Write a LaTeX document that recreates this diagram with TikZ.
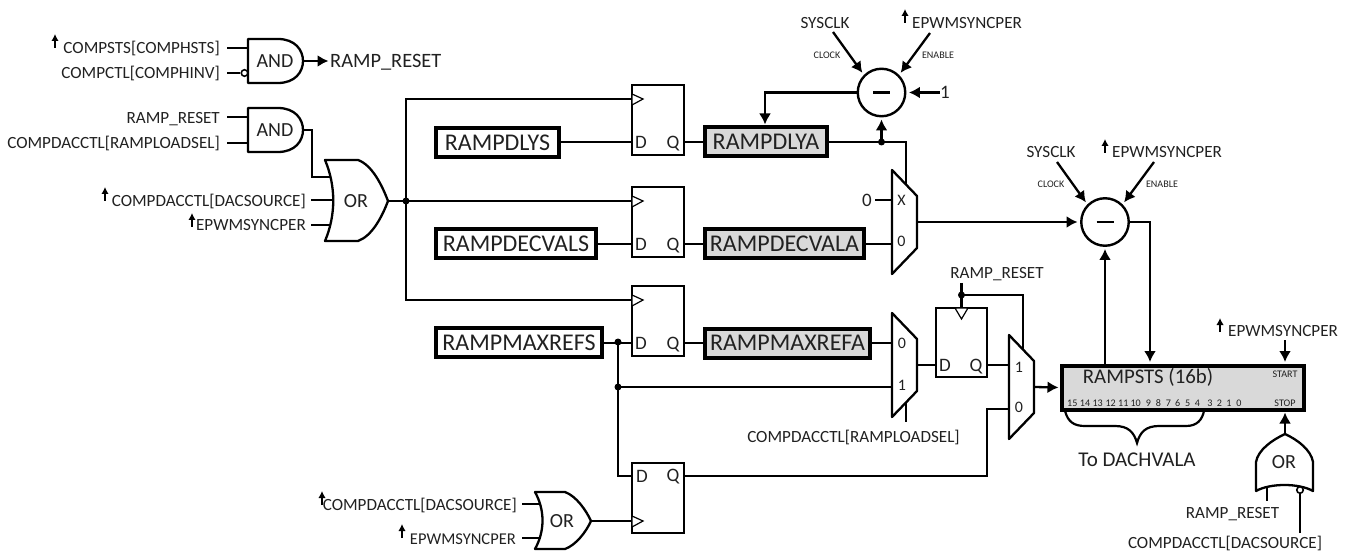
\documentclass[tikz,border=0pt]{standalone}
\usepackage{fontspec}
\setmainfont{Carlito}
\usetikzlibrary{arrows.meta,calc}
\definecolor{ink}{gray}{0.13}
\definecolor{regfill}{gray}{0.85}
\tikzset{
  x=1pt,y=-1pt,
  wire/.style={line width=2.3pt,line cap=butt,line join=miter},
  arr/.style={-{Latex[length=11pt,width=12pt]},shorten >=1.5pt},
  gate/.style={line width=2.3pt,line join=round,fill=white},
  lab/.style={font=\fontsize{17.1}{18}\selectfont,text=ink,inner sep=0pt,text height=11pt,text depth=0pt},
  labr/.style={lab,anchor=east},
  labl/.style={lab,anchor=west},
  bigl/.style={font=\fontsize{20.4}{22}\selectfont,text=ink,inner sep=0pt,text height=13pt,text depth=0pt},
  gtext/.style={font=\fontsize{20}{22}\selectfont,text=ink,inner sep=0pt,text height=12.8pt,text depth=0pt},
  ffl/.style={font=\fontsize{19}{21}\selectfont,text=ink,inner sep=0pt,text height=12.2pt,text depth=0pt},
  muxl/.style={font=\fontsize{16}{17}\selectfont,text=ink,inner sep=0pt,text height=10.3pt,text depth=0pt},
  tiny/.style={font=\fontsize{10.1}{11}\selectfont,text=ink,inner sep=0pt,text height=6.5pt,text depth=0pt},
  regbox/.style={draw,line width=4pt,inner sep=0pt,minimum height=29pt,font=\fontsize{24}{26}\selectfont,text=ink,text height=15.4pt,text depth=0pt},
  regs/.style={regbox},
  rega/.style={regbox,fill=regfill},
  dotn/.style={circle,fill=black,inner sep=0pt,minimum size=7pt},
  bub/.style={circle,draw,fill=white,line width=1.6pt,inner sep=0pt,minimum size=6.5pt},
  sub/.style={circle,draw,line width=2.4pt,fill=white,inner sep=0pt,minimum size=47.5pt},
  uparr/.pic={\draw[line width=1.9pt,-{Latex[length=7pt,width=7.5pt]}] (0,0) -- (0,-14);},
  minus/.pic={\draw[line width=2.4pt] (-8.5,0) -- (8.5,0);},
  andg/.pic={
    \draw[gate] (0,0) -- (30,0) .. controls (47,0) and (55,11) .. (55,22) .. controls (55,33) and (47,44) .. (30,44) -- (0,44) -- cycle;
    \node[gtext] (-t) at (27,22) {AND};
    \coordinate (-a) at (0,9);
    \coordinate (-b) at (0,34);
    \coordinate (-o) at (55,22);
  },
  ffa/.pic={
    \draw[line width=2.2pt] (0,0) rectangle (52,70);
    \draw[line width=1.2pt,fill=white] (0,9) -- (11,14) -- (0,20) -- cycle;
    \node[ffl] (-dl) at (9,57) {D};
    \node[ffl] (-ql) at (41,57) {Q};
    \coordinate (-c) at (0,14);
    \coordinate (-d) at (0,57);
    \coordinate (-q) at (52,57);
  },
  ffb/.pic={
    \draw[line width=2.2pt] (0,0) rectangle (52,70);
    \draw[line width=1.2pt,fill=white] (0,53) -- (11,58) -- (0,64) -- cycle;
    \node[ffl] (-dl) at (10,13) {D};
    \node[ffl] (-ql) at (41,12) {Q};
    \coordinate (-c) at (0,58);
    \coordinate (-d) at (0,13);
    \coordinate (-q) at (52,13);
  },
  ffc/.pic={
    \draw[line width=2.2pt] (0,0) rectangle (51,69);
    \draw[line width=1.2pt,fill=white] (19,0) -- (25.5,11) -- (32,0) -- cycle;
    \node[ffl] (-dl) at (9,57) {D};
    \node[ffl] (-ql) at (40,57) {Q};
    \coordinate (-c) at (25.5,0);
    \coordinate (-d) at (0,57);
    \coordinate (-q) at (51,57);
  },
  muxg/.pic={
    \draw[gate,fill=none] (0,0) -- (25,26) -- (25,78) -- (0,104) -- cycle;
    \coordinate (-a) at (0,30);
    \coordinate (-b) at (0,74);
    \coordinate (-o) at (25,52);
    \coordinate (-st) at (14,14.6);
    \coordinate (-sb) at (14,89.4);
  },
}
\begin{document}
\begin{tikzpicture}
\useasboundingbox (0,0) rectangle (1346,553);

% ---- top-left gates
\pic (and1) at (248,39) {andg};
\pic (and2) at (248,108) {andg};
\node[bub] (b1) at (244.5,73) {};
\coordinate (l1a) at (227,48);
\coordinate (l1b) at (227,73);
\coordinate (l2a) at (227,117);
\coordinate (l2b) at (227,143);
\node[labr] (tl1) at (220,48) {COMPSTS[COMPHSTS]};
\node[labr] (tl2) at (220,73) {COMPCTL[COMPHINV]};
\node[labr] (tl3) at (220,118) {RAMP\_RESET};
\node[labr] (tl4) at (220,143) {COMPDACCTL[RAMPLOADSEL]};
\pic at (55,48) {uparr};
\node[bigl,anchor=west] (rr) at (330,61) {RAMP\_RESET};
\draw[wire] (l1a) -- (and1-a);
\draw[wire] (l1b) -- (b1);
\draw[wire] (l2a) -- (l2a -| and2-a);
\draw[wire] (l2b) -- (l2b -| and2-b);
\draw[wire,arr] (and1-o) -- (rr.west);

% ---- OR 1
\draw[gate] (325,160) -- (358,160) .. controls (372,165) and (382,185) .. (388,201) .. controls (382,217) and (372,236) .. (358,241) -- (325,241) .. controls (336,215) and (336,186) .. (325,160) -- cycle;
\node[gtext] (ort1) at (356,201) {OR};
\coordinate (or1a) at (331,177);
\coordinate (or1b) at (333,200);
\coordinate (or1c) at (331,225);
\coordinate (or1o) at (388,201);
\coordinate (l3a) at (311,200);
\coordinate (l3b) at (311,225);
\node[labr] (tl5) at (306,201) {COMPDACCTL[DACSOURCE]};
\node[labr] (tl6) at (306,225) {EPWMSYNCPER};
\pic at (105,201) {uparr};
\pic at (192,227) {uparr};
\draw[wire] (and2-o) -- ++(9,0) |- (or1a);
\draw[wire] (l3a) -- (or1b);
\draw[wire] (l3b) -- (or1c);

% ---- flip-flops
\pic (ff1) at (632,85) {ffa};
\pic (ff2) at (632,187) {ffa};
\pic (ff3) at (632,286) {ffa};
\pic (ff4) at (632,463) {ffb};
\pic (ff5) at (936,308) {ffc};

% ---- registers
\node[regs,minimum width=123pt] (dlys) at (497.5,142.5) {RAMPDLYS};
\node[regs,minimum width=160pt] (decs) at (516,244) {RAMPDECVALS};
\node[regs,minimum width=166pt] (maxs) at (519,342.5) {RAMPMAXREFS};
\node[rega,minimum width=122pt] (dlya) at (766,142) {RAMPDLYA};
\node[rega,minimum width=159pt] (deca) at (784.5,244) {RAMPDECVALA};
\node[rega,minimum width=165pt] (maxa) at (787.5,343) {RAMPMAXREFA};

% ---- clock bus
\node[dotn] (j1) at (406,201) {};
\draw[wire] (or1o) -- (ff2-c);
\draw[wire] (ff1-c) -| (j1.center);
\draw[wire] (ff3-c) -| (j1.center);

% ---- register wires
\draw[wire] (dlys.east |- ff1-d) -- (ff1-d);
\draw[wire] (decs.east) -- (ff2-d);
\draw[wire] (ff1-q) -- (dlya.west);
\draw[wire] (ff2-q) -- (deca.west);
\draw[wire] (ff3-q) -- (maxa.west);
\node[dotn] (j3) at (618,342) {};
\node[dotn] (j4) at (618,387) {};
\draw[wire] (maxs.east |- ff3-d) -- (ff3-d);
\draw[wire] (j3.center) -- (j4.center);
\draw[wire] (j4.center) |- (ff4-d);

% ---- mux 1 and subtractor 1
\pic (m1) at (892,170) {muxg};
\node[muxl] (m1x) at (901.5,200) {X};
\node[muxl] (m10) at (901.5,241) {0};
\node[font=\fontsize{19}{21}\selectfont,text=ink,inner sep=0pt,text height=12.2pt,text depth=0pt] (zero) at (867,200) {0};
\node[sub] (c1) at (881.5,92.5) {};
\pic at (881.5,92.5) {minus};
\node[dotn] (j2) at (881.5,142) {};
\coordinate (p1) at (765,124.5);
\coordinate (s1) at (833,32);
\coordinate (e1) at (930,33);
\node[bigl,font=\fontsize{19}{21}\selectfont] (one) at (945,92.5) {1};
\node[lab] (sys1) at (825,23) {SYSCLK};
\node[labl] (enp1) at (912,23) {EPWMSYNCPER};
\pic at (905,23) {uparr};
\node[tiny] (clk1) at (827,55) {CLOCK};
\node[tiny] (en1) at (938,55) {ENABLE};
\draw[wire] (dlya.east) -- (j2.center);
\draw[wire] (j2.center) -| (m1-st);
\draw[wire,arr,shorten >=2pt] (j2.center) -- (c1.south);
\draw[wire,arr,shorten >=0pt] (c1.west) -| (p1);
\draw[wire,arr,shorten >=2.5pt] (one.west) -- (c1.east);
\draw[wire,arr,shorten >=2.5pt] (s1) -- (c1.135);
\draw[wire,arr,shorten >=2.5pt] (e1) -- (c1.45);
\draw[wire] (zero.east) ++(3,0) -- (m1-a);
\draw[wire] (deca.east) -- (m1-b);

% ---- subtractor 2
\node[sub] (c2) at (1105,222) {};
\pic at (1105,222) {minus};
\coordinate (s2) at (1057,162);
\coordinate (e2) at (1154,162);
\node[lab] (sys2) at (1051,152) {SYSCLK};
\node[labl] (enp2) at (1112,152) {EPWMSYNCPER};
\pic at (1105,153) {uparr};
\node[tiny] (clk2) at (1051,184) {CLOCK};
\node[tiny] (en2) at (1162,184) {ENABLE};
\draw[wire,arr,shorten >=2.5pt] (m1-o) -- (c2.west);
\draw[wire,arr,shorten >=2.5pt] (s2) -- (c2.135);
\draw[wire,arr,shorten >=2.5pt] (e2) -- (c2.45);

% ---- brace
\coordinate (brl) at (1065,411);
\coordinate (brr) at (1204,411);
\coordinate (brt) at (1137,443);
\draw[line width=2.2pt] (brl) .. controls (1068,422) and (1074,426) .. (1085,426) -- (1115,426) .. controls (1128,426) and (1134,432) .. (brt) .. controls (1140,432) and (1146,426) .. (1159,426) -- (1186,426) .. controls (1197,426) and (1202,420) .. (brr);
\node[bigl,font=\fontsize{21}{23}\selectfont] (todac) at (1137,460) {To DACHVALA};

% ---- RAMPSTS
\node[rega,minimum width=242pt,minimum height=44pt] (sts) at (1183,387.5) {};
\node[bigl,font=\fontsize{20.8}{22}\selectfont] (ststxt) at (1148,377) {RAMPSTS (16b)};
\node[tiny] (start) at (1285,374) {START};
\node[tiny] (stop) at (1285,403) {STOP};
\foreach \n/\x in {15/1072.3,14/1085,13/1097.7,12/1110.7,11/1123.3,10/1135.7,9/1148.3,8/1158.3,7/1168.3,6/1177.7,5/1187.7,4/1197.3,3/1210,2/1219.3,1/1229,0/1239}
  \node[tiny] (bit\n) at (\x,403.5) {\n};
\coordinate (rsa) at (1150,362);
\coordinate (rsb) at (1105,365);
\draw[wire,arr,shorten >=0pt] (c2.east) -| (rsa);
\draw[wire,arr,shorten >=2pt] (rsb) -- (c2.south);

\coordinate (ra3) at (1285,340);
\coordinate (rst) at (1285,362);
\node[labl] (enp3) at (1228,331) {EPWMSYNCPER};
\pic at (1220,332) {uparr};
\draw[wire,arr,shorten >=0pt] (ra3) -- (rst);

% ---- OR 3 (rotated)
\draw[gate] (1285,434) .. controls (1272,440) and (1258,450) .. (1256,462) -- (1256,491) .. controls (1270,483) and (1299,483) .. (1313,491) -- (1313,462) .. controls (1311,450) and (1298,440) .. (1285,434) -- cycle;
\node[gtext] (ort3) at (1284,462) {OR};
\coordinate (or3o) at (1285,434);
\coordinate (or3sp) at (1285,412.5);
\coordinate (or3a) at (1267,486);
\coordinate (or3a2) at (1267,501);
\node[bub] (b3) at (1300,490) {};
\coordinate (or3b2) at (1300,533);
\node[lab] (rr3) at (1232.5,513) {RAMP\_RESET};
\node[lab] (ds3) at (1225,543) {COMPDACCTL[DACSOURCE]};
\draw[wire,arr,shorten >=0pt] (or3o) -- (or3sp);
\draw[wire] (or3a) -- (or3a2);
\draw[wire] (or3b2) -- (b3);

% ---- mux 2
\pic (m2) at (892,313) {muxg};
\node[muxl] (m20) at (902,343) {0};
\node[muxl] (m21) at (902,385) {1};
\coordinate (m2s) at (906,422);
\node[lab] (rl) at (853.5,437) {COMPDACCTL[RAMPLOADSEL]};
\draw[wire] (maxa.east |- m2-a) -- (m2-a);
\draw[wire] (j4.center) -- (m2-b);
\draw[wire] (m2-sb) -- (m2s);
\draw[wire] (m2-o) -- (ff5-d);

% ---- mux 3
\pic (m3) at (1009,335) {muxg};
\node[muxl] (m31) at (1019,367) {1};
\node[muxl] (m30) at (1019,407) {0};
\node[dotn] (j5) at (961.5,295) {};
\coordinate (rrp) at (961.5,283);
\node[lab] (rr2) at (997,273) {RAMP\_RESET};
\coordinate (m3k) at (987,409);
\draw[wire] (rrp) -- (ff5-c);
\draw[wire] (j5.center) -| (m3-st);
\draw[wire] (ff5-q) -- (m3-a);
\draw[wire] (ff4-q) -| (m3k) -- (m3-b);
\draw[wire,arr,shorten >=1.5pt] (m3-o) -- (sts.west);

% ---- OR 4
\draw[gate] (535,492) -- (565,492) .. controls (576,496) and (586,510) .. (591,521) .. controls (586,532) and (576,545) .. (565,549) -- (535,549) .. controls (545,531) and (545,510) .. (535,492) -- cycle;
\node[gtext] (ort4) at (562,521) {OR};
\coordinate (or4a) at (541,504);
\coordinate (or4b) at (541,538);
\coordinate (or4o) at (591,521);
\coordinate (l4a) at (522,504);
\coordinate (l4b) at (522,538);
\node[labr] (tl7) at (517,505) {COMPDACCTL[DACSOURCE]};
\node[labr,font=\fontsize{16.5}{18}\selectfont] (tl8) at (516,538.5) {EPWMSYNCPER};
\pic at (322,505) {uparr};
\pic at (402,538) {uparr};
\draw[wire] (l4a) -- (or4a);
\draw[wire] (l4b) -- (or4b);
\draw[wire] (or4o) -- (ff4-c);
\end{tikzpicture}
\end{document}
